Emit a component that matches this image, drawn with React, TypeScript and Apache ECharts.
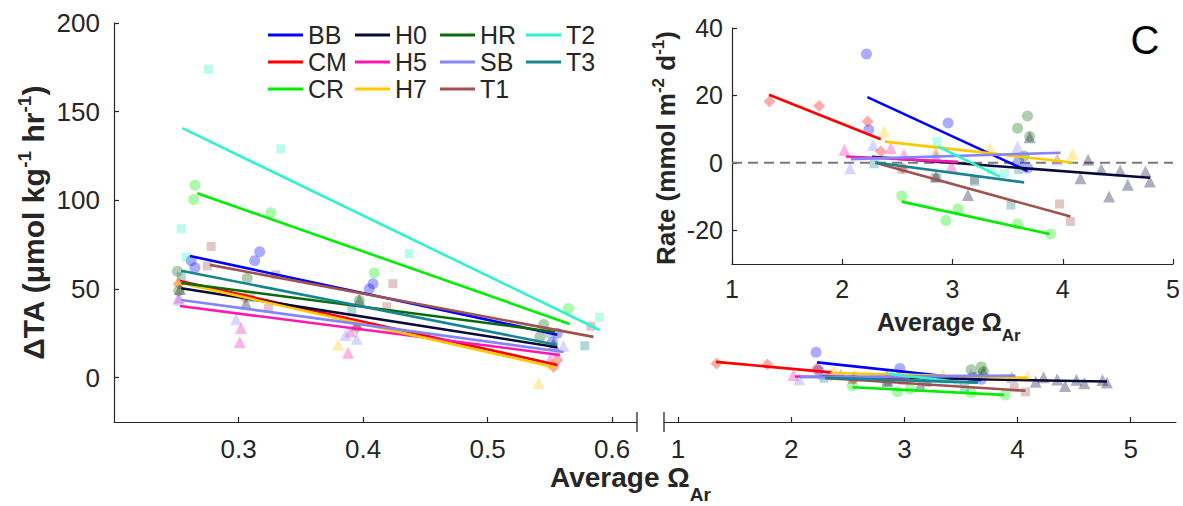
import React, { useEffect, useRef } from 'react';
import * as echarts from 'echarts';

const FONT = '"Liberation Sans", Arial, Helvetica, sans-serif';
const INK = '#262626';

const sites = ['BB', 'CM', 'CR', 'H0', 'H5', 'H7', 'HR', 'SB', 'T1', 'T2', 'T3'];
const siteColors = ['#0000FF', '#FF0000', '#00EE00', '#0A0A3A', '#FF18B0', '#FFC800', '#0A6A0A', '#8484FF', '#A0524E', '#30F2CC', '#178591'];
const siteSymbols = ['circle', 'diamond', 'circle', 'triangle', 'triangle', 'triangle', 'circle', 'triangle', 'rect', 'rect', 'rect'];
const legendColumns = [['BB', 'CM', 'CR'], ['H0', 'H5', 'H7'], ['HR', 'SB', 'T1'], ['T2', 'T3']];

// ---- Left panel: ΔTA (µmol kg-1 hr-1) vs average Ω_Ar ----
const taBB = [[0.262, 66], [0.265, 62], [0.313, 66], [0.317, 71], [0.405, 50], [0.408, 53], [0.556, 25], [0.552, 20]];
const taCM = [[0.252, 53], [0.305, 45], [0.395, 28], [0.553, 6], [0.556, 10]];
const taCR = [[0.265, 108.5], [0.264, 100.5], [0.326, 93], [0.409, 59], [0.565, 39]];
const taH0 = [[0.253, 50], [0.306, 42], [0.397, 44], [0.395, 30], [0.553, 19]];
const taH5 = [[0.252, 45], [0.302, 28], [0.301, 20], [0.388, 14], [0.39, 26], [0.55, 10]];
const taH7 = [[0.252, 55], [0.305, 47], [0.38, 18.6], [0.541, -3], [0.552, 8]];
const taHR = [[0.251, 60], [0.252, 49], [0.307, 56], [0.397, 43.5], [0.545, 30], [0.542, 23]];
const taSB = [[0.252, 44], [0.298, 33], [0.386, 24], [0.395, 22], [0.561, 18], [0.555, 15]];
const taT1 = [[0.278, 74], [0.275, 63], [0.33, 58], [0.324, 39], [0.424, 53], [0.419, 40], [0.583, 29]];
const taT2 = [[0.254, 84], [0.276, 174], [0.334, 129], [0.437, 70], [0.59, 34], [0.258, 68]];
const taT3 = [[0.254, 57], [0.31, 45], [0.391, 38], [0.578, 18], [0.55, 25]];

const taFitBB = [[0.261, 68.6], [0.556, 24.2]];
const taFitCM = [[0.253, 54.5], [0.556, 7.2]];
const taFitCR = [[0.267, 104], [0.566, 30.3]];
const taFitH0 = [[0.254, 50.4], [0.556, 17.2]];
const taFitH5 = [[0.253, 40.4], [0.558, 12.8]];
const taFitH7 = [[0.253, 53.5], [0.553, 6.0]];
const taFitHR = [[0.254, 53.4], [0.554, 25.8]];
const taFitSB = [[0.254, 43.8], [0.561, 14.5]];
const taFitT1 = [[0.277, 63.6], [0.585, 23]];
const taFitT2 = [[0.255, 140.7], [0.59, 26.9]];
const taFitT3 = [[0.254, 60.3], [0.556, 18.4]];

// ---- Rate (mmol m-2 d-1) vs average Ω_Ar (inset and lower right) ----
const rateBB = [[2.22, 32.3], [2.24, 9.8], [2.96, 11.8], [3.68, -1.5], [3.6, 0.5]];
const rateCM = [[1.34, 18.2], [1.79, 16.9], [2.23, 12.3], [2.35, 3.4], [2.55, -1.5]];
const rateCR = [[2.54, -9.8], [2.94, -17.1], [3.05, -13.7], [3.59, -18.1], [3.89, -21.1]];
const rateH0 = [[2.85, -4], [3.14, -9.5], [3.7, 7.6], [4.16, -4.6], [4.23, 0.9], [4.35, -1.9], [4.42, -10], [4.52, -2.3], [4.59, -6.5], [4.75, -2.6], [4.79, -5.5]];
const rateH5 = [[2.02, 3.9], [2.44, 4.4], [2.56, 2.4], [2.99, -0.9], [2.85, 1.5]];
const rateH7 = [[2.38, 9.3], [2.85, 3.5], [3.34, 4.4], [3.95, 1.5], [4.09, 2.7]];
const rateHR = [[3.59, 10.3], [3.68, 13.9], [3.7, 7.8], [3.65, 2]];
const rateSB = [[2.07, -1.6], [2.28, 5.3], [2.85, 2.5], [3.59, 4.8], [3.95, 1]];
const rateT1 = [[2.54, -1.9], [2.84, -4.5], [3.2, -5], [3.97, -12.2], [4.07, -17.4]];
const rateT2 = [[2.86, 6.3], [3.35, -2.1], [3.47, -3.1]];
const rateT3 = [[2.29, -0.3], [2.86, -4.5], [3.2, -5.5], [3.53, -12.5], [3.6, -2]];

const rateFitBB = [[2.228, 19.5], [3.68, -2.4]];
const rateFitCM = [[1.336, 20.2], [2.349, 7.0]];
const rateFitCR = [[2.54, -11.5], [3.88, -21.1]];
const rateFitH0 = [[2.27, 1.8], [4.79, -4.4]];
const rateFitH5 = [[2.033, 1.9], [3.05, 0.3]];
const rateFitH7 = [[2.387, 6.3], [4.09, 0.1]];
const rateFitHR = null;
const rateFitSB = [[2.078, 1.1], [3.98, 3.0]];
const rateFitT1 = [[2.3, 0], [4.07, -15.9]];
const rateFitT2 = [[2.87, 4.8], [3.43, -4.1]];
const rateFitT3 = [[2.3, 0.1], [3.65, -5.8]];

const zeroLine = [[1, 0], [5, 0]];

const xTaTicks = [0.3, 0.4, 0.5, 0.6];
const yTaTicks = [0, 50, 100, 150, 200];
const xRateTicks = [1, 2, 3, 4, 5];
const yRateTicks = [-20, 0, 20, 40];

const taPts = [taBB, taCM, taCR, taH0, taH5, taH7, taHR, taSB, taT1, taT2, taT3];
const taFits = [taFitBB, taFitCM, taFitCR, taFitH0, taFitH5, taFitH7, taFitHR, taFitSB, taFitT1, taFitT2, taFitT3];
const ratePts = [rateBB, rateCM, rateCR, rateH0, rateH5, rateH7, rateHR, rateSB, rateT1, rateT2, rateT3];
const rateFits = [rateFitBB, rateFitCM, rateFitCR, rateFitH0, rateFitH5, rateFitH7, rateFitHR, rateFitSB, rateFitT1, rateFitT2, rateFitT3];

const symbolSize = (sym: string) => (sym === 'rect' ? 9 : sym === 'circle' ? 11 : 12);

const tickStyle = (customValues: number[]) => ({
  show: true, inside: true, length: 5, lineStyle: { color: INK, width: 1.2 }, customValues,
});

function axisStyle() {
  return {
    axisLine: { show: true, onZero: false, lineStyle: { color: INK, width: 1.2 } },
    splitLine: { show: false },
  };
}

function buildOption() {
  const series: any[] = [];
  sites.forEach((s, i) => {
    const color = siteColors[i];
    const sym = siteSymbols[i];
    const scatterBase = {
      type: 'scatter',
      symbol: sym,
      symbolSize: symbolSize(sym),
      itemStyle: { color, opacity: 0.33 },
      z: 2,
      silent: true,
    };
    series.push({ ...scatterBase, name: s + ' ΔTA data', xAxisIndex: 0, yAxisIndex: 0, data: taPts[i] });
    series.push({ ...scatterBase, name: s + ' rate data', xAxisIndex: 1, yAxisIndex: 1, data: ratePts[i] });
    series.push({ ...scatterBase, name: s + ' rate data inset', xAxisIndex: 2, yAxisIndex: 2, data: ratePts[i] });
  });
  series.push({
    type: 'line', name: 'zero', xAxisIndex: 2, yAxisIndex: 2, data: zeroLine, showSymbol: false, z: 1,
    lineStyle: { color: '#7a7a7a', width: 2, type: [10, 6] }, silent: true,
  });
  sites.forEach((s, i) => {
    const color = siteColors[i];
    const lineBase = {
      type: 'line', showSymbol: false, symbol: 'none', z: 4, color,
      itemStyle: { color }, lineStyle: { color, width: 2.6 }, silent: true,
    };
    series.push({ ...lineBase, name: s, xAxisIndex: 0, yAxisIndex: 0, data: taFits[i] });
    if (rateFits[i]) {
      series.push({ ...lineBase, name: s + ' rate fit', xAxisIndex: 1, yAxisIndex: 1, data: rateFits[i] });
      series.push({ ...lineBase, name: s + ' rate fit inset', xAxisIndex: 2, yAxisIndex: 2, data: rateFits[i] });
    }
  });

  const legendLefts = [268, 355, 440, 526];
  const legend = legendColumns.map((col, k) => ({
    data: col,
    orient: 'vertical',
    left: legendLefts[k],
    top: 21.5,
    icon: 'rect',
    itemWidth: 35,
    itemHeight: 3,
    itemGap: 0,
    selectedMode: false,
    padding: 0,
    textStyle: { fontSize: 25, fontFamily: FONT, color: INK, lineHeight: 27 },
  }));

  const richY = {
    b: { fontSize: 30, fontWeight: 'bold', fontFamily: FONT, fill: INK, lineHeight: 36 },
    s: { fontSize: 19, fontWeight: 'bold', fontFamily: FONT, fill: INK, lineHeight: 19, verticalAlign: 'top' },
  };
  const richRate = {
    b: { fontSize: 26, fontWeight: 'bold', fontFamily: FONT, fill: INK, lineHeight: 32 },
    s: { fontSize: 17, fontWeight: 'bold', fontFamily: FONT, fill: INK, lineHeight: 17, verticalAlign: 'top' },
  };

  return {
    animation: false,
    backgroundColor: '#ffffff',
    textStyle: { fontFamily: FONT },
    grid: [
      { left: 114, top: 23, width: 523, height: 399 },
      { left: 664, top: 338, width: 512, height: 84 },
      { left: 732, top: 28, width: 444, height: 236 },
    ],
    xAxis: [
      {
        type: 'value', gridIndex: 0, min: 0.2, max: 0.62, ...axisStyle(),
        axisTick: tickStyle(xTaTicks),
        axisLabel: { color: INK, fontSize: 26, fontFamily: FONT, margin: 14, customValues: xTaTicks, formatter: (v: number) => v.toFixed(1) },
      },
      {
        type: 'value', gridIndex: 1, min: 0.876, max: 5.4, ...axisStyle(),
        axisTick: tickStyle(xRateTicks),
        axisLabel: { color: INK, fontSize: 26, fontFamily: FONT, margin: 14, customValues: xRateTicks },
      },
      {
        type: 'value', gridIndex: 2, min: 1, max: 5, ...axisStyle(),
        axisTick: tickStyle(xRateTicks),
        axisLabel: { color: INK, fontSize: 25, fontFamily: FONT, margin: 12, customValues: xRateTicks },
      },
    ],
    yAxis: [
      {
        type: 'value', gridIndex: 0, min: -25, max: 200, ...axisStyle(),
        axisTick: tickStyle(yTaTicks),
        axisLabel: { color: INK, fontSize: 26, fontFamily: FONT, margin: 14, customValues: yTaTicks },
      },
      { type: 'value', gridIndex: 1, min: -55, max: 50, show: false },
      {
        type: 'value', gridIndex: 2, min: -30, max: 40, ...axisStyle(),
        axisTick: tickStyle(yRateTicks),
        axisLabel: { color: INK, fontSize: 25, fontFamily: FONT, margin: 9, customValues: yRateTicks },
      },
    ],
    legend,
    series,
    graphic: [
      { type: 'line', shape: { x1: 637, y1: 412, x2: 637, y2: 432 }, style: { stroke: INK, lineWidth: 1.3 } },
      { type: 'line', shape: { x1: 664, y1: 412, x2: 664, y2: 432 }, style: { stroke: INK, lineWidth: 1.3 } },
      {
        type: 'text', x: 33, y: 223, rotation: Math.PI / 2,
        style: { text: '{b|ΔTA (μmol kg}{s|-1}{b| hr}{s|-1}{b|)}', rich: richY, align: 'center', verticalAlign: 'middle', fill: INK },
      },
      {
        type: 'text', x: 666, y: 148, rotation: Math.PI / 2,
        style: { text: '{b|Rate (mmol m}{s|-2}{b| d}{s|-1}{b|)}', rich: richRate, align: 'center', verticalAlign: 'middle', fill: INK },
      },
      {
        type: 'text', x: 550, y: 477,
        style: {
          text: '{m|Average Ω}{s|Ar}', align: 'left', verticalAlign: 'middle', fill: INK,
          rich: {
            m: { fontSize: 28, fontWeight: 'bold', fontFamily: FONT, fill: INK, lineHeight: 54 },
            s: { fontSize: 19, fontWeight: 'bold', fontFamily: FONT, fill: INK, lineHeight: 20, verticalAlign: 'bottom' },
          },
        },
      },
      {
        type: 'text', x: 877, y: 322,
        style: {
          text: '{m|Average Ω}{s|Ar}', align: 'left', verticalAlign: 'middle', fill: INK,
          rich: {
            m: { fontSize: 25, fontWeight: 'bold', fontFamily: FONT, fill: INK, lineHeight: 44 },
            s: { fontSize: 17, fontWeight: 'bold', fontFamily: FONT, fill: INK, lineHeight: 18, verticalAlign: 'bottom' },
          },
        },
      },
      {
        type: 'text', x: 1145, y: 40,
        style: { text: 'C', fontSize: 40, fontFamily: FONT, fill: '#000000', align: 'center', verticalAlign: 'middle' },
      },
    ],
  };
}

export default function App() {
  const ref = useRef<HTMLDivElement>(null);
  useEffect(() => {
    if (!ref.current) return;
    const chart = echarts.init(ref.current, undefined, { renderer: 'svg' });
    chart.setOption(buildOption() as any);
    return () => chart.dispose();
  }, []);
  return <div ref={ref} style={{ position: 'fixed', left: 0, top: 0, width: 1183, height: 506, background: '#fff' }} />;
}
